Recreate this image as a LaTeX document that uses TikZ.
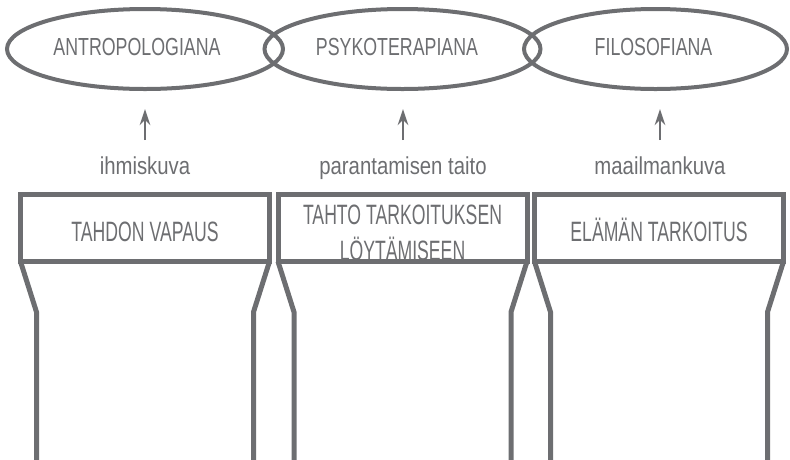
\documentclass[tikz,border=0pt]{standalone}
\usepackage{xcolor}
\usepackage{fontspec}
\setmainfont{Liberation Sans}
\newfontfamily\ovalfont{Liberation Sans}[FakeStretch=0.72]
\newfontfamily\boxfont{Liberation Sans}[FakeStretch=0.63]
\newfontfamily\tagfont{Liberation Sans}[FakeStretch=0.83]
\usepackage{tikz}
\usetikzlibrary{shapes, arrows.meta, calc, positioning}
\definecolor{linegray}{HTML}{6D6E71}

\begin{document}
\begin{tikzpicture}[
    x=1pt, y=-1pt,
    view/.style={draw=linegray, ellipse, line width=4pt, minimum width=276pt, minimum height=80pt, inner sep=0pt},
    viewtext/.style={inner sep=0pt, text=linegray, font=\ovalfont\fontsize{24.7}{30}\selectfont},
    pillar/.style={draw=linegray, rectangle, line width=5pt, minimum width=249pt, minimum height=67pt, outer sep=0pt},
    boxtext/.style={inner sep=0pt, text=linegray, align=center, font=\boxfont\fontsize{28}{35.8}\selectfont},
    tag/.style={inner sep=0pt, text=linegray, font=\tagfont\fontsize{24.5}{29}\selectfont},
    leg/.style={draw=linegray, line width=5pt},
    uparrow/.style={->, draw=linegray, line width=2.5pt, shorten <=16pt, shorten >=18pt},
    >={Stealth[length=16pt, width=10.5pt]}
]
\useasboundingbox (0,0) rectangle (790,459);

% Top row: the three views
\node[view] (anthro) at (145,49) {};
\node[view] (psycho) at (402.5,49) {};
\node[view, minimum width=263pt] (philo) at (655.5,49) {};

\node[viewtext] (anthro_text) at (137,47) {ANTROPOLOGIANA};
\node[viewtext] (psycho_text) at (397,47) {PSYKOTERAPIANA};
\node[viewtext] (philo_text) at (653.5,47) {FILOSOFIANA};

% Labels under the views
\node[tag, anchor=base] (image) at (145,174) {ihmiskuva};
\node[tag, anchor=base] (healing) at (403,174) {parantamisen taito};
\node[tag, anchor=base] (world) at (660,174) {maailmankuva};

% Arrows up to the views
\draw[uparrow] (image.north) -- (image.north |- anthro.south);
\draw[uparrow] (healing.north) -- (healing.north |- psycho.south);
\draw[uparrow] (world.north) -- (world.north |- philo.south);

% Texts of the pillars (the frames are drawn over them)
\node[boxtext, anchor=base] (freedom) at (145,241.7) {TAHDON VAPAUS};
\node[boxtext, anchor=north] (will) at (402.5,204.5) {TAHTO TARKOITUKSEN\\LÖYTÄMISEEN};
\node[boxtext, anchor=base] (meaning) at (659,241.7) {ELÄMÄN TARKOITUS};

% Pillar heads
\node[pillar] (head1) at (145,228) {};
\node[pillar] (head2) at (402.5,228) {};
\node[pillar] (head3) at (659,228) {};

% Pillar legs
\draw[leg] (head1.south west) -- ++(16,50.5) -- ++(0,150);
\draw[leg] (head1.south east) -- ++(-16,50.5) -- ++(0,150);
\draw[leg] (head2.south west) -- ++(16,50.5) -- ++(0,150);
\draw[leg] (head2.south east) -- ++(-16,50.5) -- ++(0,150);
\draw[leg] (head3.south west) -- ++(16,50.5) -- ++(0,150);
\draw[leg] (head3.south east) -- ++(-16,50.5) -- ++(0,150);

\end{tikzpicture}
\end{document}
